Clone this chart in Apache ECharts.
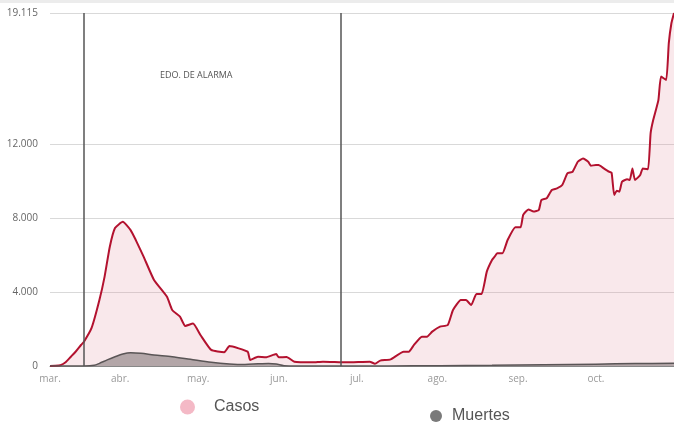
<!DOCTYPE html>
<html>
<head>
<meta charset="utf-8">
<script src="https://cdn.jsdelivr.net/npm/echarts@6/dist/echarts.min.js"></script>
<style>
  html, body { margin: 0; padding: 0; background: #fff; }
  #chart { width: 674px; height: 423px; }
</style>
</head>
<body>
<div id="chart"></div>
<script>
// día 0 = 1 de marzo
const casosDias = [0, 2, 4, 6, 8, 10, 12, 13, 16, 19, 21, 23, 25, 28, 31, 33, 36, 40, 45, 47, 50, 52, 55, 58, 62, 67, 69, 76, 77, 80, 83, 87, 88, 91, 94, 101, 105, 114, 123, 125, 127, 131, 136, 138, 140, 143, 145, 147, 150, 153, 155, 158, 160, 162, 164, 166, 168, 170, 171, 172, 174, 176, 179, 181, 182, 184, 186, 188, 189, 191, 193, 195, 197, 199, 201, 203, 205, 207, 208, 210, 211, 213, 215, 216, 217, 218, 219, 220, 222, 223, 224, 225, 227, 228, 230, 231, 232, 234, 235, 237, 238, 239, 240];
const casos = [0, 10, 40, 200, 500, 800, 1150, 1300, 2060, 3570, 4840, 6460, 7470, 7810, 7360, 6820, 5920, 4660, 3750, 3030, 2670, 2170, 2300, 1650, 870, 740, 1080, 775, 325, 500, 470, 650, 470, 490, 235, 200, 235, 200, 235, 120, 290, 360, 775, 775, 1140, 1590, 1590, 1860, 2130, 2220, 3030, 3570, 3570, 3300, 3900, 3900, 5110, 5740, 5920, 6100, 6100, 6820, 7510, 7510, 8180, 8480, 8360, 8450, 8990, 9080, 9530, 9620, 9800, 10430, 10520, 11060, 11240, 11060, 10850, 10880, 10880, 10700, 10520, 10470, 9260, 9490, 9440, 9980, 10110, 10070, 10700, 10070, 10340, 10700, 10650, 12600, 13320, 14400, 15670, 15490, 17480, 18560, 19115];

const muertesDias = [0, 13, 17, 19, 22, 25, 28, 31, 35, 40, 47, 54, 62, 69, 75, 80, 84, 87, 90, 95, 130, 150, 170, 190, 210, 225, 240];
const muertes = [0, 5, 40, 145, 330, 500, 650, 720, 690, 600, 500, 360, 200, 110, 80, 120, 140, 110, 20, 5, 5, 15, 40, 70, 100, 130, 150];

// etiquetas de meses
const mesesDias = [0, 27, 57, 88, 118, 149, 180, 210];
const meses = ['mar.', 'abr.', 'may.', 'jun.', 'jul.', 'ago.', 'sep.', 'oct.'];

const yTicks = [0, 4000, 8000, 12000, 19115];
const yMax = 19115;

// inicio y fin del estado de alarma (14 mar. y 21 jun.)
const alarmaDias = [13, 112];

const pares = (xs, ys) => xs.map((d, i) => [d, ys[i]]);
const miles = (v) => String(v).replace(/\B(?=(\d{3})+(?!\d))/g, '.');

const chart = echarts.init(document.getElementById('chart'));

const option = {
  animation: false,
  backgroundColor: '#fff',
  grid: { left: 50, right: 0, top: 13, bottom: 57 },
  xAxis: {
    type: 'value',
    min: 0,
    max: 240,
    axisLine: { show: true, lineStyle: { color: '#888', width: 1 } },
    axisTick: { show: false },
    splitLine: { show: false },
    axisLabel: {
      customValues: mesesDias,
      formatter: (v) => meses[mesesDias.indexOf(v)] || '',
      color: '#999',
      fontFamily: 'Open Sans',
      fontSize: 10,
      margin: 8
    }
  },
  yAxis: {
    type: 'value',
    min: 0,
    max: yMax,
    axisLine: { show: false },
    axisTick: { show: false, customValues: yTicks },
    splitLine: { show: true, lineStyle: { color: '#d9d9d9', width: 1 } },
    axisLabel: {
      customValues: yTicks,
      formatter: (v) => miles(v),
      color: '#666',
      fontFamily: 'Open Sans',
      fontSize: 10,
      margin: 12
    }
  },
  legend: [
    {
      data: [{ name: 'Casos', itemStyle: { color: '#f4b9c6' } }],
      left: 175, top: 394,
      icon: 'circle', itemWidth: 15, itemHeight: 15,
      textStyle: { color: '#555', fontSize: 16, fontFamily: 'Liberation Sans', padding: [0, 0, 0, 14] }
    },
    {
      data: [{ name: 'Muertes', itemStyle: { color: '#7a7a7a' } }],
      left: 425, top: 403,
      icon: 'circle', itemWidth: 12, itemHeight: 12,
      textStyle: { color: '#555', fontSize: 16, fontFamily: 'Liberation Sans', padding: [0, 0, 0, 5] }
    }
  ],
  graphic: [
    { type: 'rect', left: 0, top: 0, shape: { width: 674, height: 3 }, style: { fill: '#ececec' } },
    {
      type: 'text', left: 160, top: 71,
      style: { text: 'EDO. DE ALARMA', fill: '#555', font: '9px "Open Sans"' }
    }
  ],
  series: [
    {
      name: 'Casos',
      type: 'line',
      data: pares(casosDias, casos),
      showSymbol: false,
      smooth: 0.15,
      lineStyle: { color: '#b3122f', width: 2 },
      itemStyle: { color: '#b3122f' },
      areaStyle: { color: 'rgba(222, 140, 155, 0.28)' },
      markLine: {
        silent: true,
        symbol: 'none',
        label: { show: false },
        lineStyle: { color: '#555', width: 1.5, type: 'solid' },
        data: alarmaDias.map((d) => ({ xAxis: d }))
      },
      z: 2
    },
    {
      name: 'Muertes',
      type: 'line',
      data: pares(muertesDias, muertes),
      showSymbol: false,
      smooth: 0.3,
      lineStyle: { color: '#5a5556', width: 1.5 },
      itemStyle: { color: '#5a5556' },
      areaStyle: { color: 'rgba(110, 100, 102, 0.72)' },
      z: 3
    }
  ]
};

chart.setOption(option);
</script>
</body>
</html>
